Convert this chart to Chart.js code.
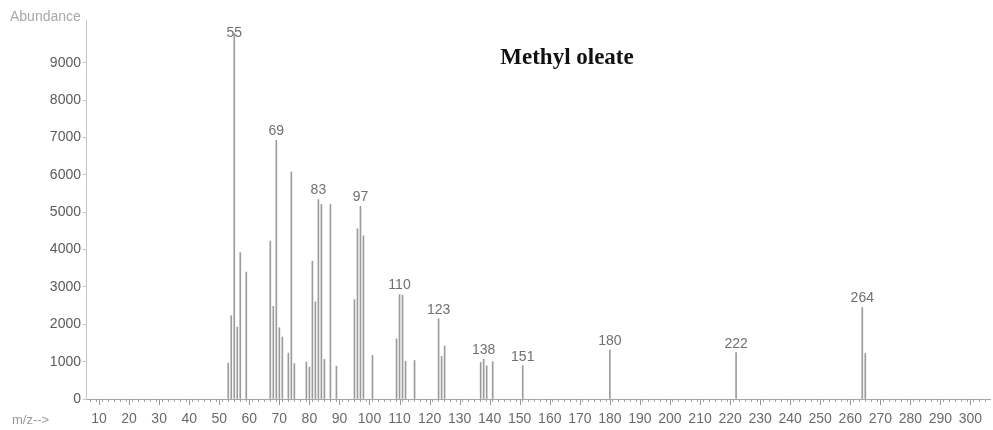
<!DOCTYPE html>
<html>
<head>
<meta charset="utf-8">
<title>Methyl oleate</title>
<script src="https://cdn.jsdelivr.net/npm/chart.js@4"></script>
<style>
  html, body { margin: 0; padding: 0; background: #ffffff; }
  #wrap { position: relative; width: 993px; height: 430px; }
</style>
</head>
<body>
<div id="wrap"><canvas id="ms"></canvas></div>
<script>
// Mass spectrum of methyl oleate: m/z and abundance of each ion peak
const MZ = [53, 54, 55, 56, 57, 59, 67, 68, 69, 70, 71, 73, 74, 75, 79, 80, 81, 82, 83, 84, 85, 87, 89,
            95, 96, 97, 98, 101, 109, 110, 111, 112, 115, 123, 124, 125, 137, 138, 139, 141, 151,
            180, 222, 264, 265];
const ABUNDANCE = [960, 2230, 9800, 1925, 3920, 3400, 4230, 2480, 6930, 1910, 1660, 1230, 6080, 945,
                   990, 855, 3690, 2600, 5340, 5210, 1060, 5210, 880,
                   2660, 4560, 5160, 4370, 1170, 1610, 2800, 2780, 1010, 1030, 2150, 1140, 1420,
                   980, 1070, 890, 1000, 890, 1310, 1240, 2450, 1220];
// Peaks carrying an m/z annotation
const LABELED = [55, 69, 83, 97, 110, 123, 138, 151, 180, 222, 264];
// Axis ticks
const Y_TICKS = [0, 1000, 2000, 3000, 4000, 5000, 6000, 7000, 8000, 9000];
const X_LABELS = [10, 20, 30, 40, 50, 60, 70, 80, 90, 100, 110, 120, 130, 140, 150, 160, 170, 180, 190,
                  200, 210, 220, 230, 240, 250, 260, 270, 280, 290, 300];
const X_MINOR_STEP = 2;
const TITLE = 'Methyl oleate';

const SANS = '"Liberation Sans", Arial, sans-serif';

const points = MZ.map((m, i) => ({ x: m, y: ABUNDANCE[i] }));

// Peak annotations, axis captions and title
const annotate = {
  id: 'annotate',
  afterDatasetsDraw(chart) {
    const { ctx, chartArea } = chart;
    const meta = chart.getDatasetMeta(0);
    ctx.save();
    ctx.fillStyle = '#707070';
    ctx.font = '14px ' + SANS;
    ctx.textAlign = 'center';
    ctx.textBaseline = 'middle';
    LABELED.forEach(m => {
      const i = MZ.indexOf(m);
      const bar = meta.data[i];
      const y = Math.max(bar.y - 9, chartArea.top + 13);
      ctx.fillText(String(m), bar.x, y);
    });

    // longer marks at the labelled decades
    const xs = chart.scales.x;
    ctx.strokeStyle = '#9a9a9a';
    ctx.lineWidth = 1;
    ctx.beginPath();
    X_LABELS.forEach(v => {
      const px = Math.round(xs.getPixelForValue(v)) + 0.5;
      ctx.moveTo(px, chartArea.bottom);
      ctx.lineTo(px, chartArea.bottom + 6);
    });
    ctx.stroke();

    ctx.textAlign = 'left';
    ctx.font = '14px ' + SANS;
    ctx.fillStyle = '#a8a8a8';
    ctx.fillText('Abundance', 10, 17);
    ctx.font = '13px ' + SANS;
    ctx.fillStyle = '#9a9a9a';
    ctx.fillText('m/z-->', 12, 420);

    ctx.font = 'bold 23px "Liberation Serif", "Times New Roman", serif';
    ctx.fillStyle = '#111111';
    ctx.textAlign = 'center';
    ctx.fillText(TITLE, 567, 58);
    ctx.restore();
  }
};

new Chart(document.getElementById('ms'), {
  type: 'bar',
  data: {
    datasets: [{
      data: points,
      backgroundColor: '#9b9b9b',
      borderWidth: 0,
      barThickness: 1,
      grouped: false
    }]
  },
  options: {
    responsive: true,
    maintainAspectRatio: false,
    animation: false,
    layout: { padding: { top: 20, right: 3, left: 0, bottom: 0 } },
    plugins: { legend: { display: false }, tooltip: { enabled: false }, title: { display: false } },
    scales: {
      x: {
        type: 'linear',
        min: 5.66,
        max: 306.5,
        offset: false,
        afterBuildTicks(scale) {
          const t = [];
          for (let v = 6; v <= 306; v += X_MINOR_STEP) t.push({ value: v });
          scale.ticks = t;
        },
        afterFit(scale) {
          scale.height = 31;
          scale.paddingLeft = 0;
          scale.paddingRight = 0;
        },
        ticks: {
          autoSkip: false,
          maxRotation: 0,
          minRotation: 0,
          padding: 9,
          color: '#6a6a6a',
          font: { family: SANS, size: 14 },
          callback: v => (X_LABELS.includes(v) ? String(v) : '')
        },
        grid: {
          drawOnChartArea: false,
          drawTicks: true,
          tickLength: 3,
          tickColor: '#a5a5a5',
          color: '#a5a5a5'
        },
        border: { display: true, color: '#a5a5a5', width: 1 }
      },
      y: {
        type: 'linear',
        min: 0,
        max: 10150,
        afterBuildTicks(scale) { scale.ticks = Y_TICKS.map(v => ({ value: v })); },
        afterFit(scale) { scale.width = 86; },
        ticks: {
          padding: 2,
          color: '#5a5a5a',
          font: { family: SANS, size: 14 },
          callback: v => String(v)
        },
        grid: {
          drawOnChartArea: false,
          drawTicks: true,
          tickLength: 3,
          tickColor: '#c4c4c4'
        },
        border: { display: true, color: '#c4c4c4', width: 1 }
      }
    }
  },
  plugins: [annotate]
});
</script>
</body>
</html>
